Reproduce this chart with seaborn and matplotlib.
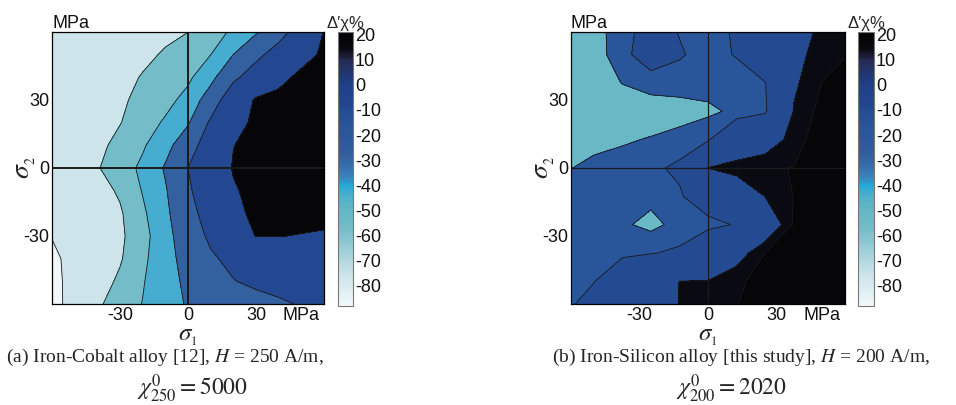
import numpy as np
import matplotlib
matplotlib.use("Agg")
import matplotlib.pyplot as plt
from matplotlib.colors import LinearSegmentedColormap, Normalize
from matplotlib.cm import ScalarMappable
import seaborn as sns

sns.set_theme(style="white")
plt.rcParams["font.family"] = ["Liberation Sans", "DejaVu Sans"]
plt.rcParams["mathtext.fontset"] = "stix"
plt.rcParams["axes.unicode_minus"] = False

# ---------------------------------------------------------------------------
# (a) Iron-Cobalt alloy: relative susceptibility change (%) on a 10 MPa grid
# ---------------------------------------------------------------------------
sigma1_a = [-60, -50, -40, -30, -20, -10, 0, 10, 20, 30, 40, 50, 60]
sigma2_a = [-60, -50, -40, -30, -20, -10, 0, 10, 20, 30, 40, 50, 60]
dchi_a = [
    [-81.0, -70.4, -59.2, -50.6, -42.6, -33.8, -26.7, -22.9, -19.1, -15.3, -11.5, -7.7, -5.0],
    [-80.0, -71.3, -63.3, -54.6, -44.0, -33.8, -24.8, -17.3, -9.7, -5.4, -3.0, -1.0, 0.0],
    [-79.0, -71.4, -64.9, -58.4, -46.0, -33.4, -22.2, -11.5, -4.4, 0.0, 3.0, 5.0, 6.0],
    [-75.5, -70.2, -64.9, -59.6, -48.1, -32.9, -19.0, -5.7, 6.9, 18.5, 18.3, 17.5, 16.5],
    [-75.0, -69.6, -64.1, -58.7, -45.5, -31.2, -15.3, -0.8, 13.0, 22.0, 22.0, 22.0, 22.0],
    [-75.0, -68.7, -62.4, -55.1, -42.2, -29.4, -11.6, 2.9, 16.6, 22.0, 25.0, 26.0, 27.0],
    [-75.0, -66.5, -58.0, -49.6, -40.1, -26.4, -9.0, 6.4, 19.0, 23.0, 25.0, 27.0, 29.0],
    [-74.0, -67.3, -60.5, -53.0, -44.7, -33.4, -16.9, 1.0, 17.7, 22.0, 25.0, 27.0, 29.0],
    [-74.0, -68.5, -63.0, -57.5, -49.7, -41.1, -29.6, -6.2, 12.4, 21.0, 25.0, 27.0, 29.0],
    [-74.0, -69.0, -64.1, -59.1, -53.5, -47.4, -38.4, -19.3, 3.9, 20.0, 24.0, 27.0, 29.0],
    [-74.0, -69.6, -65.2, -60.8, -56.2, -51.0, -45.7, -32.6, -12.7, 0.2, 11.6, 23.0, 26.0],
    [-73.0, -69.7, -66.3, -63.0, -59.7, -55.7, -49.4, -43.1, -27.9, -13.4, -1.1, 10.1, 21.4],
    [-72.0, -69.5, -67.0, -64.6, -62.1, -59.6, -57.1, -49.3, -40.6, -29.6, -16.0, 0.2, 18.6],
]
levels_a = [-100, -76, -57, -43, -28, -9, 18, 40]

# ---------------------------------------------------------------------------
# (b) Iron-Silicon alloy: relative susceptibility change (%) on a 12.5 MPa grid
# ---------------------------------------------------------------------------
sigma1_b = [-60, -50, -37.5, -25, -12.5, 0, 12.5, 25, 37.5, 50, 60]
sigma2_b = [-60, -50, -37.5, -25, -12.5, 0, 12.5, 25, 37.5, 50, 60]
dchi_b = [
    [-10.8, -6.5, 0.7, 7.9, 14.3, 16.0, 17.9, 19.5, 20.5, 21.5, 22.0],
    [-11.5, -10.3, -2.4, 6.5, 14.1, 14.3, 17.5, 19.0, 20.0, 21.0, 22.0],
    [-13.5, -12.5, -11.5, -10.5, -8.5, 2.5, 10.9, 18.1, 20.0, 21.0, 22.0],
    [-14.0, -14.5, -15.9, -19.0, -14.7, -12.7, -9.3, 7.7, 18.5, 21.0, 22.0],
    [-14.0, -14.5, -14.5, -15.2, -11.0, -3.8, 5.2, 14.1, 18.1, 21.0, 22.0],
    [-17.2, -14.5, -13.5, -11.5, -8.5, 14.1, 17.3, 17.8, 18.05, 21.0, 22.0],
    [-26.0, -20.0, -18.0, -16.4, -13.7, -11.1, 5.0, 10.0, 16.1, 20.5, 22.0],
    [-35.0, -34.0, -26.5, -21.5, -21.0, -18.5, -15.5, -11.6, 14.4, 19.5, 21.0],
    [-31.0, -24.5, -16.6, -13.8, -13.0, -14.0, -13.5, -10.5, 13.0, 18.1, 19.5],
    [-30.0, -20.8, -12.4, -5.0, -9.3, -12.5, -9.5, 1.5, 11.9, 16.5, 17.8],
    [-30.0, -20.0, -13.0, -6.0, -10.3, -12.0, -9.3, 0.5, 9.4, 16.0, 17.5],
]
levels_b = [-52, -17, -10, 14, 18, 40]

# Shared colour scale
DCHI_MIN, DCHI_MAX = -88, 21
cbar_ticks = [20, 10, 0, -10, -20, -30, -40, -50, -60, -70, -80]
ramp_values = [-88, -80, -76, -70, -64, -57, -50, -45, -43, -40, -37, -33, -28,
               -20, -17, -10, -9, 0, 5, 10, 14, 18, 21]
ramp_colors = ["#f2f8fa", "#d8ebf0", "#cde5ea", "#b3d8e0", "#93cbd4", "#72bcc8",
               "#64b7c4", "#52b1cb", "#45acd0", "#22a8d7", "#3a86bf", "#3670ad",
               "#335f9f", "#2b579b", "#29569a", "#244c92", "#234891", "#1f3f88",
               "#21356f", "#272a52", "#0a0a12", "#060608", "#030304"]

xticks = [-50, -30, 0, 30, 50]
xticklabels = ["", "-30", "0", "30", "MPa"]
yticks = [-50, -30, 0, 30, 50]
yticklabels = ["", "-30", "0", "30", ""]

captions_a = ["(a) Iron-Cobalt alloy [12], $H$ = 250 A/m,", r"$\chi^0_{250} = 5000$"]
captions_b = ["(b) Iron-Silicon alloy [this study], $H$ = 200 A/m,", r"$\chi^0_{200} = 2020$"]

span = DCHI_MAX - DCHI_MIN
cmap = LinearSegmentedColormap.from_list(
    "dchi", [((v - DCHI_MIN) / span, c) for v, c in zip(ramp_values, ramp_colors)])
norm = Normalize(DCHI_MIN, DCHI_MAX, clip=True)

W, H = 956, 405
fig = plt.figure(figsize=(W / 100, H / 100), dpi=100)


def rect(x0, y0, x1, y1):
    """Pixel box (top-left origin) -> figure fraction rect."""
    return [x0 / W, 1 - y1 / H, (x1 - x0) / W, (y1 - y0) / H]


def draw_panel(ax_box, cb_box, s1, s2, z, levels, zero_lw, caps, cap_x, tick_fs=13):
    ax = fig.add_axes(rect(*ax_box))
    s1 = np.asarray(s1)
    s2 = np.asarray(s2)
    z = np.asarray(z)
    fills = [cmap(norm(v)) for v in levels[:-1]]
    ax.contourf(s1, s2, z, levels=levels, colors=fills)
    ax.contour(s1, s2, z, levels=levels[1:-1], colors="k", linewidths=0.6,
               linestyles="solid")
    ax.axhline(0, color="k", lw=zero_lw)
    ax.axvline(0, color="k", lw=zero_lw)
    ax.set_xlim(-60, 60)
    ax.set_ylim(-60, 60)
    ax.set_xticks(xticks)
    ax.set_xticklabels(xticklabels)
    ax.set_yticks(yticks)
    ax.set_yticklabels(yticklabels)
    ax.tick_params(direction="in", length=4, width=0.8, color="#333333",
                   top=True, right=True, labelsize=tick_fs, pad=2,
                   labelcolor="#111111")
    for sp in ax.spines.values():
        sp.set_color("black")
        sp.set_linewidth(0.9)
    ax.set_xlabel(r"$\sigma_{{}_{1}}$", fontsize=18)
    ax.set_ylabel(r"$\sigma_{{}_{2}}$", fontsize=20)
    ax.xaxis.set_label_coords(0.5, -0.074)
    ax.yaxis.set_label_coords(-0.052, 0.5)
    ax.text(0, 1.0, "MPa", transform=ax.transAxes, ha="left", va="bottom",
            fontsize=tick_fs, color="#111111")

    cax = fig.add_axes(rect(*cb_box))
    cb = fig.colorbar(ScalarMappable(norm=norm, cmap=cmap), cax=cax)
    cb.set_ticks(cbar_ticks)
    cb.set_ticklabels([str(t) for t in cbar_ticks])
    cb.ax.tick_params(direction="in", left=True, right=True, length=3,
                      width=0.8, color="#333333", labelsize=tick_fs, pad=1.5,
                      labelcolor="#111111")
    cb.outline.set_edgecolor("#777777")
    cb.outline.set_linewidth(0.8)
    cax.set_title("Δ′χ%", fontsize=12, pad=3)

    fig.text(cap_x[0] / W, 1 - 357 / H, caps[0], family="Liberation Serif",
             fontsize=14, ha="center", va="center")
    fig.text(cap_x[1] / W, 1 - 389 / H, caps[1], family="Liberation Serif",
             fontsize=17, ha="center", va="center")


draw_panel((52, 32, 324, 304), (338, 32, 353, 306), sigma1_a, sigma2_a, dchi_a,
           levels_a, 1.4, captions_a, (165, 192))
draw_panel((571, 32, 845, 304), (858, 32, 874, 306), sigma1_b, sigma2_b, dchi_b,
           levels_b, 0.9, captions_b, (741, 731))

fig.savefig("out.png", dpi=100)
